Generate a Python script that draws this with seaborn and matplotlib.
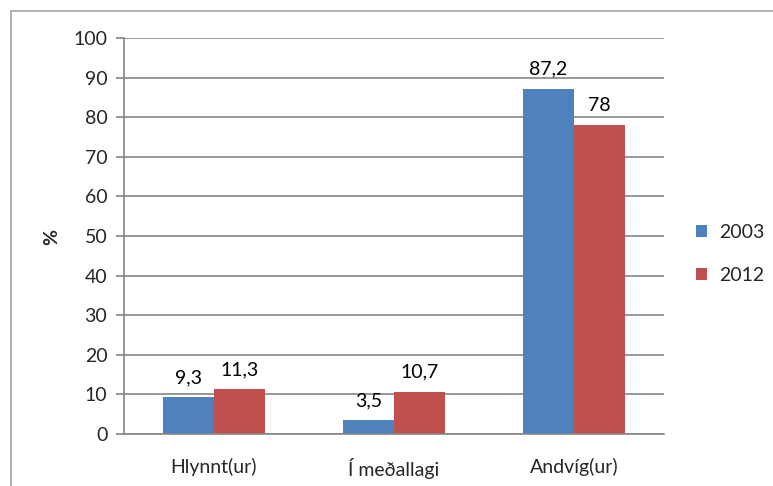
import matplotlib
matplotlib.use("Agg")
import matplotlib.pyplot as plt
import seaborn as sns
import pandas as pd
from matplotlib.lines import Line2D
from matplotlib.patches import Patch

categories = ["Hlynnt(ur)", "Í meðallagi", "Andvíg(ur)"]
years = ["2003", "2012"]
values_2003 = [9.3, 3.5, 87.2]
values_2012 = [11.3, 10.7, 78.0]
y_ticks = [0, 10, 20, 30, 40, 50, 60, 70, 80, 90, 100]

colors = ["#4F81BD", "#C0504D"]
grid_col = "#868686"

sns.set_theme(style="white")
plt.rcParams["font.family"] = ["Lato", "DejaVu Sans"]

df = pd.DataFrame({
    "cat": categories * 2,
    "year": [years[0]] * 3 + [years[1]] * 3,
    "val": values_2003 + values_2012,
})

fig = plt.figure(figsize=(7.73, 4.86), dpi=100)
ax = fig.add_axes([124 / 773, 52 / 486, 540 / 773, 396 / 486])

sns.barplot(data=df, x="cat", y="val", hue="year", order=categories,
            hue_order=years, palette=colors, width=0.57, saturation=1,
            edgecolor="none", linewidth=0, ax=ax, legend=False, errorbar=None)

ax.set_ylim(0, 100)
ax.set_xlim(-0.5, 2.5)
ax.set_yticks(y_ticks)
ax.set_yticklabels([str(t) for t in y_ticks], fontsize=14)
ax.yaxis.grid(True, color=grid_col, linewidth=1.2)
ax.set_axisbelow(True)
ax.set_xlabel("")
ax.set_ylabel("")
ax.tick_params(axis="y", length=6, width=1.2, color=grid_col, left=True, pad=6)
ax.tick_params(axis="x", length=0, pad=17.5, labelsize=14)
for s in ["top", "right"]:
    ax.spines[s].set_visible(False)
for s in ["left", "bottom"]:
    ax.spines[s].set_color(grid_col)
    ax.spines[s].set_linewidth(1.2)

for cont in ax.containers:
    for bar in cont:
        v = bar.get_height()
        ax.annotate(f"{v:g}".replace(".", ","),
                    (bar.get_x() + bar.get_width() / 2, v),
                    xytext=(0, 11), textcoords="offset pixels",
                    ha="center", va="bottom", fontsize=14, color="black")

fig.text(52 / 773, 1 - 237 / 486, "%", rotation=90, ha="center", va="center",
         fontsize=14, fontweight="bold")

handles = [Patch(facecolor=c, edgecolor="none") for c in colors]
fig.legend(handles, years, loc="center left",
           bbox_to_anchor=(678 / 773, 1 - 254 / 486), frameon=False,
           fontsize=14, handlelength=0.6, handleheight=0.6,
           handletextpad=0.6, labelspacing=1.35)

frame_col = "#A6A6A6"
fig.add_artist(Line2D([10.5 / 773, 10.5 / 773], [0, 1 - 11 / 486],
                      transform=fig.transFigure, color=frame_col, lw=1.2))
fig.add_artist(Line2D([10.5 / 773, 1], [1 - 11 / 486, 1 - 11 / 486],
                      transform=fig.transFigure, color=frame_col, lw=1.2))

fig.savefig("out.png", dpi=100)
